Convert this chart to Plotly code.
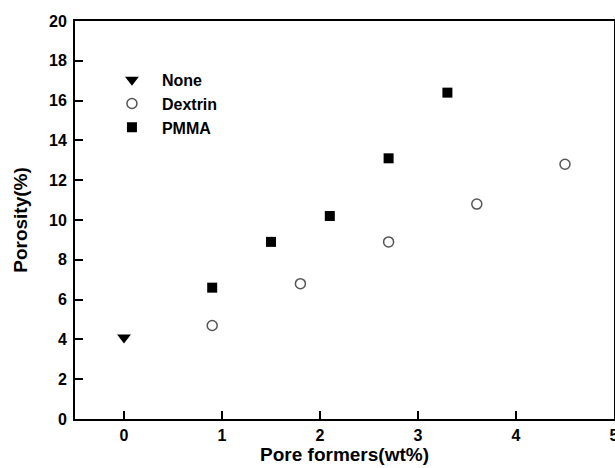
import plotly.graph_objects as go

none_x = [0]
none_y = [4.1]
dextrin_x = [0.9, 1.8, 2.7, 3.6, 4.5]
dextrin_y = [4.7, 6.8, 8.9, 10.8, 12.8]
pmma_x = [0.9, 1.5, 2.1, 2.7, 3.3]
pmma_y = [6.6, 8.9, 10.2, 13.1, 16.4]

FONT = "Liberation Sans, Arial, sans-serif"

fig = go.Figure()
fig.add_trace(go.Scatter(x=none_x, y=none_y, mode="markers", name="None",
                         marker=dict(symbol="triangle-down", size=12, color="black")))
fig.add_trace(go.Scatter(x=dextrin_x, y=dextrin_y, mode="markers", name="Dextrin",
                         marker=dict(symbol="circle-open", size=10, color="#555555",
                                     line=dict(width=1.5, color="#555555"))))
fig.add_trace(go.Scatter(x=pmma_x, y=pmma_y, mode="markers", name="PMMA",
                         marker=dict(symbol="square", size=10, color="black")))

axis_common = dict(
    showline=True, linecolor="black", linewidth=2, mirror=True,
    ticks="inside", ticklen=8, tickwidth=2, tickcolor="black",
    showgrid=False, zeroline=False, automargin=False,
    ticklabeloverflow="allow",
    tickfont=dict(family=FONT, size=16, color="black", weight=700),
)

fig.update_layout(
    width=615, height=468,
    margin=dict(l=75, r=1, t=21, b=49),
    paper_bgcolor="white", plot_bgcolor="white",
    showlegend=True,
    legend=dict(x=0.05, y=0.895, xanchor="left", yanchor="top",
                bgcolor="rgba(0,0,0,0)", borderwidth=0, itemwidth=50,
                font=dict(family=FONT, size=16, color="black", weight=700)),
    xaxis=dict(range=[-0.5, 5], tickvals=[0, 1, 2, 3, 4, 5],
               title=dict(text="Pore formers(wt%)", standoff=0,
                          font=dict(family=FONT, size=19, color="black", weight=700)),
               ticklabelstandoff=1, **axis_common),
    yaxis=dict(range=[0, 20], tickvals=list(range(0, 21, 2)),
               title=dict(text="Porosity(%)", standoff=16,
                          font=dict(family=FONT, size=19, color="black", weight=700)),
               ticklabelstandoff=3, **axis_common),
)

fig.write_html("out.html")
